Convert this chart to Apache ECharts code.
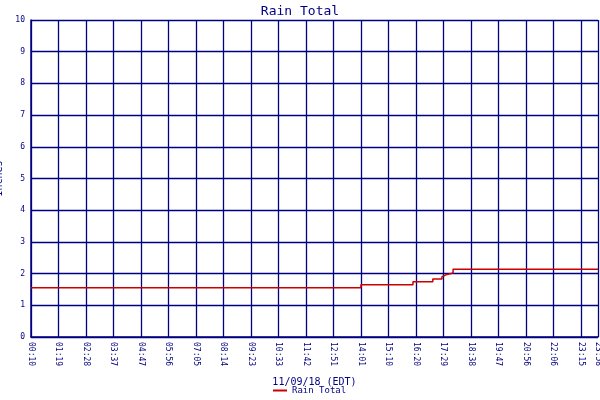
<!DOCTYPE html>
<html><head><meta charset="utf-8">
<script src="https://cdn.jsdelivr.net/npm/echarts@6/dist/echarts.min.js"></script>
<style>html,body{margin:0;padding:0;background:#fff}#c{width:600px;height:400px}</style>
</head><body><div id="c"></div>
<script>
// minutes after 00:10 on 11/09/18
var times = [0, 831, 962, 1012, 1035, 1040, 1045, 1063, 1428];
var rain  = [1.55, 1.65, 1.74, 1.83, 1.90, 1.96, 2.02, 2.14, 2.14];
var tickLabels = ['00:10','01:19','02:28','03:37','04:47','05:56','07:05','08:14','09:23','10:33','11:42','12:51','14:01','15:10','16:20','17:29','18:38','19:47','20:56','22:06','23:15'];
var endLabel = '23:58';
var title = 'Rain Total';
var font = 'DejaVu Sans Mono';
var chart = echarts.init(document.getElementById('c'));
function lbl(v){ if(v>=1428) return endLabel; return tickLabels[Math.round(v/69.25)]||''; }
chart.setOption({
  animation:false,
  title:{text:title,left:'center',top:0,textStyle:{color:'#000080',fontFamily:font,fontSize:13,fontWeight:'normal'}},
  legend:{bottom:0,left:268,itemWidth:14,itemHeight:2,icon:'rect',textStyle:{color:'#000080',fontFamily:font,fontSize:9},data:[title]},
  grid:{left:31,right:2,top:20,bottom:63,outerBoundsMode:'none',containLabel:false},
  xAxis:{type:'value',min:0,max:1428,interval:69.25,
    name:'11/09/18 (EDT)',nameLocation:'middle',nameGap:40,nameTextStyle:{color:'#000080',fontFamily:font,fontSize:10},
    axisLine:{lineStyle:{color:'#000080',width:1.5}},axisTick:{show:false},
    splitLine:{show:true,lineStyle:{color:'#000080',width:1.3}},
    axisLabel:{rotate:-90,color:'#000080',fontFamily:font,fontSize:8,showMaxLabel:true,formatter:lbl,margin:5}},
  yAxis:{type:'value',min:0,max:10,interval:1,
    name:'Inches',nameLocation:'middle',nameGap:22,nameTextStyle:{color:'#000080',fontFamily:font,fontSize:10},
    axisLine:{show:true,lineStyle:{color:'#000080',width:1.5}},axisTick:{show:false},
    splitLine:{lineStyle:{color:'#000080',width:1.3}},
    axisLabel:{color:'#000080',fontFamily:font,fontSize:8,margin:6}},
  series:[{name:title,type:'line',step:'end',symbol:'none',
    lineStyle:{color:'#cc0000',width:1.5},itemStyle:{color:'#cc0000'},
    data:times.map(function(t,i){return [t,rain[i]];})}]
});
</script></body></html>
